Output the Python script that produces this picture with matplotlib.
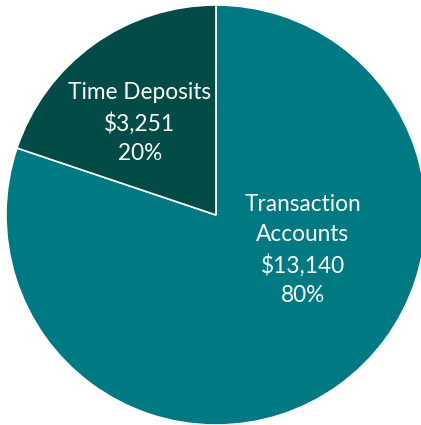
import matplotlib
matplotlib.use("Agg")
import matplotlib.pyplot as plt

# deposit mix
categories = ["Transaction\nAccounts", "Time Deposits"]
amounts = [13140, 3251]
shares = [80, 20]
colors = ["#007A82", "#034B46"]

plt.rcParams['font.family'] = ['Lato', 'DejaVu Sans']

fig = plt.figure(figsize=(4.21, 4.25), dpi=100)
ax = fig.add_axes([0, 0, 1, 1])

ax.pie(amounts, colors=colors, startangle=90, counterclock=False,
       radius=1.0, center=(0, 0),
       wedgeprops=dict(edgecolor="white", linewidth=1.2))

# label spots (data coords, radius = 1)
label_pos = [(0.414, -0.167), (-0.362, 0.438)]
for name, amt, pct, (x, y) in zip(categories, amounts, shares, label_pos):
    ax.text(x, y, f"{name}\n${amt:,}\n{pct}%", ha="center", va="center",
            color="white", fontsize=16.3, linespacing=1.5)

ax.set_xlim(-216 / 210, (421 - 216) / 210)
ax.set_ylim(-1.0, 215 / 210)
ax.set_aspect("equal")
ax.axis("off")

fig.savefig("out.png", dpi=100)
